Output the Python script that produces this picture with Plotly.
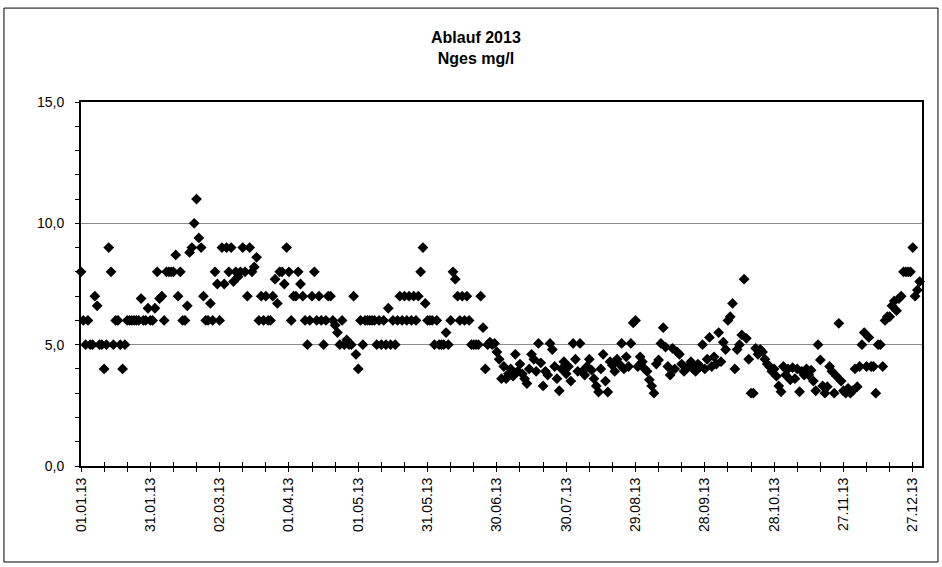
import pandas as pd
import plotly.graph_objects as go

# ---- data (daily values, Ablauf 2013, Nges mg/l) ----
start_date = "2013-01-01"
nges = [
    # Jan 1 - Mar 2 (days 0-60)
    8, 6, 5, 6, 5, 5, 7, 6.6, 5, 5,
    4, 5, 9, 8, 5, 6, 6, 5, 4, 5,
    6, 6, 6, 6, 6, 6, 6.9, 6, 6, 6.5,
    6, 6, 6.5, 8, 6.9, 7, 6, 8, 8, 8,
    8, 8.7, 7, 8, 6, 6, 6.6, 8.8, 9, 10,
    11, 9.4, 9, 7, 6, 6, 6.7, 6, 8, 7.5,
    6,
    # days 61-120
    9, 7.5, 9, 8, 9, 7.6, 8, 7.8, 8, 9,
    8, 7, 9, 8, 8.2, 8.6, 6, 7, 6, 7,
    6, 6, 7, 7.7, 6.7, 8, 8, 7.5, 9, 8,
    6, 7, 7, 8, 7.5, 7, 6, 5, 6, 7,
    8, 6, 7, 6, 5, 6, 7, 7, 6, 5.8,
    5.5, 5, 6, 5, 5.2, 5, 5, 7, 4.6, 4,
    # days 121-181
    6, 5, 6, 6, 6, 6, 6, 5, 6, 5,
    6, 5, 6.5, 5, 6, 5, 6, 7, 6, 7,
    6, 7, 6, 7, 6, 7, 8, 9, 6.7, 6,
    6, 6, 5, 6, 5, 5, 5, 5.5, 5, 6,
    8, 7.7, 7, 6, 7, 6, 7, 6, 5, 5,
    5, 5, 7, 5.7, 4, 5, 5.1, 5.0, 5.05, 4.7,
    4.4,
    # days 182-242
    3.6, 4.1, 3.6, 3.8, 4.0, 3.7, 4.6, 3.9, 4.2, 3.8,
    3.6, 3.4, 4.0, 4.6, 4.4, 3.9, 5.05, 4.25, 3.3, 3.9,
    3.75, 5.05, 4.8, 4.1, 3.6, 3.1, 4.0, 4.3, 3.8, 4.1,
    3.5, 5.05, 4.4, 3.9, 5.05, 3.9, 3.75, 4.1, 4.4, 3.95,
    3.6, 3.3, 3.05, 4.0, 4.6, 3.5, 3.05, 4.3, 4.15, 3.9,
    4.4, 4.2, 5.05, 4.0, 4.5, 4.1, 5.05, 5.9, 6.0, 4.1,
    4.5,
    # days 243-300
    4.3, 4.0, 3.9, 3.55, 3.3, 3.0, 4.2, 4.37, 5.05, 5.7,
    4.9, 4.1, 3.75, 4.85, 4.0, 4.7, 4.6, 4.2, 3.9, 4.0,
    4.1, 4.3, 4.0, 3.9, 4.2, 4.1, 5.0, 4.0, 4.4, 5.3,
    4.1, 4.5, 4.2, 5.5, 4.3, 5.1, 4.8, 6.0, 6.15, 6.7,
    4.0, 4.8, 5.0, 5.4, 7.7, 5.26, 4.4, 3.0, 3.0, 4.85,
    4.6, 4.8, 4.7, 4.4, 4.2, 4.1, 3.9, 4.0,
    # days 301-363
    3.7, 3.3, 3.06, 4.1, 3.75, 4.0, 3.55, 4.05, 3.6, 4.0,
    3.06, 3.9, 3.75, 4.0, 3.75, 3.95, 3.5, 3.1, 5.0, 4.37,
    3.3, 3.0, 3.27, 4.1, 3.9, 3.0, 3.7, 5.88, 3.5, 3.1,
    3.0, 3.2, 3.0, 3.1, 4.0, 3.27, 4.1, 5.0, 5.5, 4.1,
    5.3, 4.1, 4.1, 3.0, 5.0, 5.0, 4.1, 6.0, 6.15, 6.15,
    6.6, 6.8, 6.4, 6.9, 7.0, 8.0, 8.0, 8.0, 8.0, 9.0,
    7.0, 7.25, 7.6,
]

x_tick_dates = ["2013-01-01", "2013-01-31", "2013-03-02", "2013-04-01", "2013-05-01",
                "2013-05-31", "2013-06-30", "2013-07-30", "2013-08-29", "2013-09-28",
                "2013-10-28", "2013-11-27", "2013-12-27"]
x_tick_labels = ["01.01.13", "31.01.13", "02.03.13", "01.04.13", "01.05.13", "31.05.13",
                 "30.06.13", "30.07.13", "29.08.13", "28.09.13", "28.10.13", "27.11.13",
                 "27.12.13"]
y_tick_vals = [0, 5, 10, 15]
y_tick_labels = ["0,0", "5,0", "10,0", "15,0"]

title_lines = ["Ablauf 2013", "Nges mg/l"]

dates = pd.date_range(start_date, periods=len(nges), freq="D")

FONT = "Liberation Sans, Arial, sans-serif"
DAY_MS = 86400000

fig = go.Figure()
fig.add_trace(go.Scatter(
    x=dates, y=nges, mode="markers",
    marker=dict(symbol="diamond", size=8.3, color="black", line=dict(width=0)),
    cliponaxis=False, showlegend=False, hoverinfo="x+y",
))

# invisible trace on the overlay axis so its inside ticks are drawn
fig.add_trace(go.Scatter(x=[dates[0]], y=[None], xaxis="x2", yaxis="y",
                         mode="markers", showlegend=False, hoverinfo="skip"))

x_range = ["2013-01-01", "2013-12-31"]

fig.update_layout(
    width=942, height=567,
    margin=dict(l=81, r=20, t=102, b=101),
    paper_bgcolor="white", plot_bgcolor="white",
    font=dict(family=FONT, size=14, color="black"),
    xaxis=dict(
        type="date", range=x_range,
        tickvals=x_tick_dates, ticktext=x_tick_labels, tickangle=-90,
        ticks="outside", ticklen=4, tickwidth=1, tickcolor="black",
        minor=dict(dtick=10 * DAY_MS, tick0="2013-01-01", ticks="outside",
                   ticklen=4, tickwidth=1, tickcolor="black", showgrid=False),
        showgrid=False, zeroline=False,
        showline=True, linecolor="black", linewidth=2, mirror=True,
        tickfont=dict(family=FONT, size=14, color="black"),
    ),
    xaxis2=dict(
        type="date", range=x_range, overlaying="x", anchor="y", side="bottom",
        tickvals=x_tick_dates, showticklabels=False,
        ticks="inside", ticklen=4, tickwidth=1, tickcolor="black",
        minor=dict(dtick=10 * DAY_MS, tick0="2013-01-01", ticks="inside",
                   ticklen=4, tickwidth=1, tickcolor="black", showgrid=False),
        showgrid=False, zeroline=False, showline=False,
    ),
    yaxis=dict(
        range=[0, 15], tickvals=y_tick_vals, ticktext=y_tick_labels,
        ticks="outside", ticklen=4, tickwidth=1, tickcolor="black",
        ticklabelstandoff=8,
        minor=dict(dtick=1, ticks="outside", ticklen=4, tickwidth=1,
                   tickcolor="black", showgrid=False),
        showgrid=True, gridcolor="#8a8a8a", gridwidth=1, zeroline=False,
        showline=True, linecolor="black", linewidth=2, mirror=True,
        tickfont=dict(family=FONT, size=14, color="black"),
    ),
    annotations=[dict(
        text="<b>" + title_lines[0] + "</b><br><b>" + title_lines[1] + "</b>",
        xref="paper", yref="paper", x=0.4697, y=1.147,
        xanchor="center", yanchor="middle", showarrow=False,
        font=dict(family=FONT, size=16, color="black"),
    )],
    shapes=[dict(
        type="rect", xref="paper", yref="paper",
        x0=-0.0916, x1=1.019, y0=-0.2637, y1=1.258,
        line=dict(color="black", width=1), fillcolor="rgba(0,0,0,0)", layer="below",
    )],
)

fig.write_html("out.html", config={"displayModeBar": False},
               post_script="document.body.style.margin='0';document.body.style.overflow='hidden';")
